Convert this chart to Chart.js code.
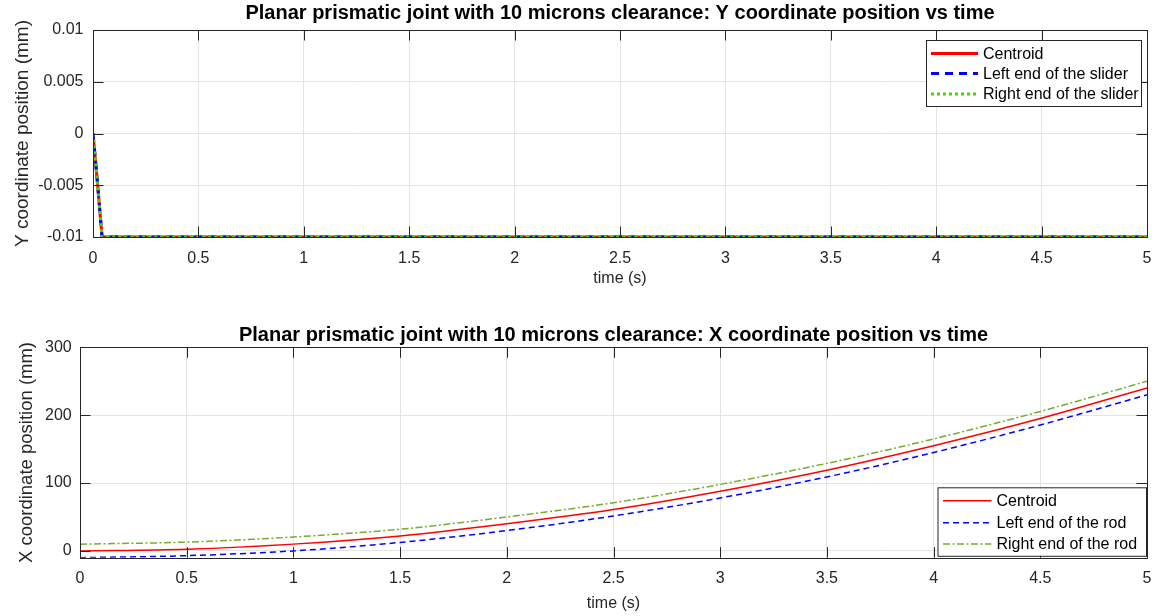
<!DOCTYPE html>
<html>
<head>
<meta charset="utf-8">
<script src="https://cdn.jsdelivr.net/npm/chart.js@4.4.1/dist/chart.umd.min.js"></script>
<style>
  html, body { margin: 0; padding: 0; background: #fff; }
  #wrap { position: relative; width: 1167px; height: 616px; overflow: hidden; }
  canvas { position: absolute; left: 0; }
</style>
</head>
<body>
<div id="wrap">
  <canvas id="yPos" width="1167" height="300" style="top:0"></canvas>
  <canvas id="xPos" width="1167" height="316" style="top:300px"></canvas>
</div>
<script>
  // time axis ticks (both plots)
  const timeTicks = [0, 0.5, 1, 1.5, 2, 2.5, 3, 3.5, 4, 4.5, 5];

  // Top plot: Y coordinate of the slider (mm)
  const timeY = [0, 0.02, 0.043, 0.5, 1, 1.5, 2, 2.5, 3, 3.5, 4, 4.5, 5];
  const centroidY = [0, -0.0045, -0.01, -0.01, -0.01, -0.01, -0.01, -0.01, -0.01, -0.01, -0.01, -0.01, -0.01];
  const leftSliderY = [0, -0.0045, -0.01, -0.01, -0.01, -0.01, -0.01, -0.01, -0.01, -0.01, -0.01, -0.01, -0.01];
  const rightSliderY = [0, -0.0045, -0.01, -0.01, -0.01, -0.01, -0.01, -0.01, -0.01, -0.01, -0.01, -0.01, -0.01];
  const yTicksTop = [-0.01, -0.005, 0, 0.005, 0.01];

  // Bottom plot: X coordinate of the rod (mm)
  const timeX = [0, 0.5, 1, 1.5, 2, 2.5, 3, 3.5, 4, 4.5, 5];
  const centroidX = [0, 2.5, 10, 22, 40, 61, 88, 119, 155, 195, 240];
  const leftRodX = [-10, -7, 0, 12.5, 30, 51.5, 78, 109, 145, 185.5, 230];
  const rightRodX = [10, 13, 20.5, 32, 50, 71, 98, 129, 165, 205.5, 250];
  const yTicksBottom = [0, 100, 200, 300];

  const FONT = "'Liberation Sans', Arial, Helvetica, sans-serif";
  const AXIS = '#262626';
  const GRID = '#e3e3e3';
  Chart.defaults.font.family = FONT;
  Chart.defaults.color = AXIS;

  const pts = (xs, ys) => xs.map((x, i) => ({ x: x, y: ys[i] }));

  // box, inward ticks and the boxed legend, MATLAB style
  const matlabAxes = {
    id: 'matlabAxes',
    afterDatasetsDraw(chart, args, opts) {
      const { ctx, chartArea: a } = chart;
      const sx = chart.scales.x, sy = chart.scales.y;
      const len = 10.5;
      ctx.save();
      ctx.strokeStyle = AXIS;
      ctx.lineWidth = 1;
      ctx.setLineDash([]);
      ctx.beginPath();
      sx.ticks.forEach(t => {
        const px = Math.round(sx.getPixelForValue(t.value)) + 0.5;
        ctx.moveTo(px, a.bottom); ctx.lineTo(px, a.bottom - len);
        ctx.moveTo(px, a.top); ctx.lineTo(px, a.top + len);
      });
      sy.ticks.forEach(t => {
        const py = Math.round(sy.getPixelForValue(t.value)) + 0.5;
        ctx.moveTo(a.left, py); ctx.lineTo(a.left + len, py);
        ctx.moveTo(a.right, py); ctx.lineTo(a.right - len, py);
      });
      ctx.stroke();
      ctx.strokeRect(Math.round(a.left) + 0.5, Math.round(a.top) + 0.5,
                     Math.round(a.right) - Math.round(a.left), Math.round(a.bottom) - Math.round(a.top));

      // legend
      const L = opts.legend;
      ctx.fillStyle = '#fff';
      ctx.fillRect(L.box[0], L.box[1], L.box[2], L.box[3]);
      ctx.strokeStyle = AXIS;
      ctx.strokeRect(L.box[0] + 0.5, L.box[1] + 0.5, L.box[2], L.box[3]);
      ctx.font = '16px ' + FONT;
      ctx.textBaseline = 'middle';
      ctx.textAlign = 'left';
      chart.data.datasets.forEach((ds, i) => {
        const y = L.rows[i];
        ctx.beginPath();
        ctx.setLineDash(ds.borderDash || []);
        ctx.strokeStyle = ds.borderColor;
        ctx.lineWidth = ds.borderWidth;
        ctx.moveTo(L.sample[0], y);
        ctx.lineTo(L.sample[1], y);
        ctx.stroke();
        ctx.setLineDash([]);
        ctx.fillStyle = '#000';
        ctx.fillText(ds.label, L.textX, y + 1);
      });
      ctx.restore();
    }
  };

  function axesOptions(cfg) {
    return {
      responsive: false,
      animation: false,
      events: [],
      layout: { padding: { left: 0, right: 20, top: 0, bottom: 0 } },
      elements: { point: { radius: 0 } },
      scales: {
        x: {
          type: 'linear', min: 0, max: 5,
          afterBuildTicks: s => { s.ticks = timeTicks.map(v => ({ value: v })); },
          afterFit: s => { s.height = cfg.xHeight; },
          grid: { color: GRID, drawTicks: false },
          border: { display: false },
          ticks: { font: { size: 16 }, padding: cfg.xTickPad, maxRotation: 0, callback: v => String(v) },
          title: { display: true, text: 'time (s)', font: { size: 16 }, padding: { top: 0, bottom: cfg.xTitlePad } }
        },
        y: {
          type: 'linear', min: cfg.yMin, max: cfg.yMax,
          afterBuildTicks: s => { s.ticks = cfg.yTicks.map(v => ({ value: v })); },
          afterFit: s => { s.width = cfg.yWidth; },
          grid: { color: GRID, drawTicks: false },
          border: { display: false },
          ticks: { font: { size: 16 }, padding: cfg.yTickPad, callback: v => String(v) },
          title: { display: true, text: cfg.yTitle, font: { size: cfg.yTitleSize }, padding: { top: cfg.yTitlePad, bottom: 0 } }
        }
      },
      plugins: {
        legend: { display: false },
        tooltip: { enabled: false },
        title: {
          display: true, fullSize: false, text: cfg.title, color: '#000',
          font: { size: 20, weight: 'bold' },
          padding: { top: cfg.titleTop, bottom: cfg.titleBottom }
        },
        matlabAxes: { legend: cfg.legend }
      }
    };
  }

  new Chart(document.getElementById('yPos'), {
    type: 'line',
    data: {
      datasets: [
        { label: 'Centroid', data: pts(timeY, centroidY), borderColor: '#ff0000', borderWidth: 3, order: 2 },
        { label: 'Left end of the slider', data: pts(timeY, leftSliderY), borderColor: '#0000ff', borderWidth: 3, borderDash: [8, 6], order: 1 },
        { label: 'Right end of the slider', data: pts(timeY, rightSliderY), borderColor: '#47d600', borderWidth: 3, borderDash: [3, 3], order: 0 }
      ]
    },
    options: axesOptions({
      title: 'Planar prismatic joint with 10 microns clearance: Y coordinate position vs time',
      titleTop: 1, titleBottom: 5,
      yTitle: 'Y coordinate position (mm)', yTitlePad: 11.4, yTitleSize: 19,
      yMin: -0.01, yMax: 0.01, yTicks: yTicksTop,
      yWidth: 93, yTickPad: 9.5,
      xHeight: 63, xTickPad: 11.5, xTitlePad: 11.4,
      legend: { box: [926, 40, 215, 66], rows: [53.5, 73.5, 94], sample: [931, 978], textX: 983 }
    }),
    plugins: [matlabAxes]
  });

  new Chart(document.getElementById('xPos'), {
    type: 'line',
    data: {
      datasets: [
        { label: 'Centroid', data: pts(timeX, centroidX), borderColor: '#ff0000', borderWidth: 1.5, cubicInterpolationMode: 'monotone' },
        { label: 'Left end of the rod', data: pts(timeX, leftRodX), borderColor: '#0000ff', borderWidth: 1.5, borderDash: [6, 4], cubicInterpolationMode: 'monotone' },
        { label: 'Right end of the rod', data: pts(timeX, rightRodX), borderColor: '#77ac30', borderWidth: 1.5, borderDash: [7, 2.5, 2, 2.5], cubicInterpolationMode: 'monotone' }
      ]
    },
    options: axesOptions({
      title: 'Planar prismatic joint with 10 microns clearance: X coordinate position vs time',
      titleTop: 23, titleBottom: 0.3,
      yTitle: 'X coordinate position (mm)', yTitlePad: 15.6, yTitleSize: 18.5,
      yMin: -10, yMax: 300, yTicks: yTicksBottom,
      yWidth: 80, yTickPad: 8.3,
      xHeight: 58.3, xTickPad: 11.5, xTitlePad: 2.4,
      legend: { box: [937.5, 187.3, 208.5, 68.5], rows: [200.7, 222.7, 244], sample: [943, 991.5], textX: 996.5 }
    }),
    plugins: [matlabAxes]
  });
</script>
</body>
</html>
